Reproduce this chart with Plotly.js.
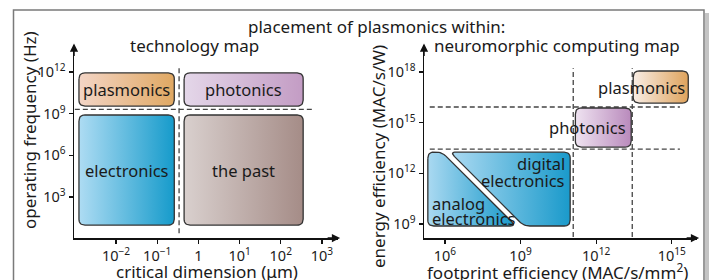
<!DOCTYPE html>
<html><head><meta charset="utf-8">
<script src="https://cdn.plot.ly/plotly-3.0.1.min.js"></script>
<style>html,body{margin:0;padding:0;background:#fff}#chart{width:710px;height:280px}</style>
</head><body><div id="chart"></div>
<script>
// ---- tick labels ----
const leftXTicks = [0.01, 0.1, 1, 10, 100, 1000];
const leftXTickText = ['10<sup>−2</sup>', '10<sup>−1</sup>', '1', '10<sup>1</sup>', '10<sup>2</sup>', '10<sup>3</sup>'];
const leftYTicks = [1e3, 1e6, 1e9, 1e12];
const leftYTickText = ['10<sup>3</sup>', '10<sup>6</sup>', '10<sup>9</sup>', '10<sup>12</sup>'];
const rightXTicks = [1e6, 1e9, 1e12, 1e15];
const rightXTickText = ['10<sup>6</sup>', '10<sup>9</sup>', '10<sup>12</sup>', '10<sup>15</sup>'];
const rightYTicks = [1e9, 1e12, 1e15, 1e18];
const rightYTickText = ['10<sup>9</sup>', '10<sup>12</sup>', '10<sup>15</sup>', '10<sup>18</sup>'];

// ---- technology map regions (critical dimension in µm, frequency in Hz) ----
const techNames = ['plasmonics', 'photonics', 'electronics', 'the past'];
const techXMin = [1.26e-3, 0.45, 1.26e-3, 0.45];
const techXMax = [0.26, 350, 0.26, 350];
const techYMin = [3.5e9, 3.5e9, 9.5, 9.5];
const techYMax = [8.5e11, 8.5e11, 8e8, 8e8];
const techColorL = ['#f3d5c6', '#e4d7e9', '#aedcf3', '#d9d0ce'];
const techColorR = ['#e0a862', '#c39cc4', '#169bcb', '#a58c87'];
// boundaries
const techDimBoundary = 0.34;      // µm
const techFreqBoundary = 2e9;      // Hz
const techDimLineY = [2.5, 3e12];
const techFreqLineX = [1e-3, 600];

// ---- neuromorphic map regions (MAC/s/mm², MAC/s/W) ----
const neuroBoxNames = ['plasmonics', 'photonics'];
const neuroBoxXMin = [2.95e13, 1.5e11];
const neuroBoxXMax = [4.5e15, 2.45e13];
const neuroBoxYMin = [1.45e16, 3.6e13];
const neuroBoxYMax = [1.15e18, 7.4e15];
const neuroBoxColorL = ['#f8ede5', '#efe3f1'];
const neuroBoxColorR = ['#dfa35c', '#b98abc'];
const analogX = [2.1e5, 7.6e5, 6.6e8, 2.1e5];
const analogY = [1.8e13, 1.8e13, 7.6e8, 7.6e8];
const digitalX = [1.6e6, 9.3e10, 9.3e10, 1.35e9];
const digitalY = [1.8e13, 1.8e13, 7.6e8, 7.6e8];
const elecColorL = '#aad9f1';
const elecColorR = '#1a9acb';
const neuroXBounds = [1.23e11, 2.7e13];
const neuroYBounds = [2.75e13, 8.5e15];
const neuroHLineX = [2.5e5, 2.1e15];
const neuroVLineY = [1.7e8, 1.7e18];

const W = 710, H = 280;
const axL = {x: {domain: [74 / W, 338 / W], range: [-3.02, 3.39]}, y: {domain: [1 - 238 / H, 1 - 45 / H], range: [0.05, 13.94]}};
const axR = {x: {domain: [424 / W, 697 / W], range: [5.17, 16.0]}, y: {domain: [1 - 238 / H, 1 - 45 / H], range: [8.17, 19.6]}};

function mapper(ax, len) {
  const d = ax.domain, r = ax.range;
  return {
    toP: v => (d[0] + (Math.log10(v) - r[0]) / (r[1] - r[0]) * (d[1] - d[0])) * len,
    fromP: p => Math.pow(10, r[0] + (p / len - d[0]) / (d[1] - d[0]) * (r[1] - r[0]))
  };
}

function roundPoly(xs, ys, ax, rad) {
  const mx = mapper(ax.x, W), my = mapper(ax.y, H);
  const px = xs.map(mx.toP), py = ys.map(my.toP);
  const n = px.length, ox = [], oy = [];
  for (let i = 0; i < n; i++) {
    const a = (i - 1 + n) % n, b = (i + 1) % n;
    const ux = px[a] - px[i], uy = py[a] - py[i], la = Math.hypot(ux, uy);
    const vx = px[b] - px[i], vy = py[b] - py[i], lb = Math.hypot(vx, vy);
    const rr = Math.min(rad, la / 2, lb / 2);
    const sx = px[i] + ux / la * rr, sy = py[i] + uy / la * rr;
    const ex = px[i] + vx / lb * rr, ey = py[i] + vy / lb * rr;
    for (let k = 0; k <= 8; k++) {
      const t = k / 8, q = 1 - t;
      ox.push(q * q * sx + 2 * q * t * px[i] + t * t * ex);
      oy.push(q * q * sy + 2 * q * t * py[i] + t * t * ey);
    }
  }
  ox.push(ox[0]); oy.push(oy[0]);
  return {x: ox.map(mx.fromP), y: oy.map(my.fromP)};
}

function region(xs, ys, ax, xa, ya, cL, cR) {
  const p = roundPoly(xs, ys, ax, 6);
  return {x: p.x, y: p.y, xaxis: xa, yaxis: ya, type: 'scatter', mode: 'lines', fill: 'toself',
    line: {color: '#333', width: 1.3}, fillgradient: {type: 'horizontal', colorscale: [[0, cL], [1, cR]]},
    hoverinfo: 'skip', showlegend: false};
}
function dashed(x, y, xa, ya) {
  return {x: x, y: y, xaxis: xa, yaxis: ya, type: 'scatter', mode: 'lines',
    line: {color: '#444', width: 1.3, dash: '5px,3px'}, hoverinfo: 'skip', showlegend: false};
}

const traces = [];
traces.push(dashed(techFreqLineX, [techFreqBoundary, techFreqBoundary], 'x', 'y'));
traces.push(dashed([techDimBoundary, techDimBoundary], techDimLineY, 'x', 'y'));
for (let i = 0; i < techNames.length; i++) {
  traces.push(region([techXMin[i], techXMax[i], techXMax[i], techXMin[i]],
    [techYMax[i], techYMax[i], techYMin[i], techYMin[i]], axL, 'x', 'y', techColorL[i], techColorR[i]));
}
neuroYBounds.forEach(v => traces.push(dashed(neuroHLineX, [v, v], 'x2', 'y2')));
neuroXBounds.forEach(v => traces.push(dashed([v, v], neuroVLineY, 'x2', 'y2')));
for (let i = 0; i < neuroBoxNames.length; i++) {
  traces.push(region([neuroBoxXMin[i], neuroBoxXMax[i], neuroBoxXMax[i], neuroBoxXMin[i]],
    [neuroBoxYMax[i], neuroBoxYMax[i], neuroBoxYMin[i], neuroBoxYMin[i]], axR, 'x2', 'y2', neuroBoxColorL[i], neuroBoxColorR[i]));
}
traces.push(region(analogX, analogY, axR, 'x2', 'y2', elecColorL, elecColorR));
traces.push(region(digitalX, digitalY, axR, 'x2', 'y2', elecColorL, elecColorR));

const FONT = 'Noto Sans, Liberation Sans, Arial, sans-serif';
const TXT = '#1a1a1a';
function axis(a, tv, tt, anchor) {
  return {type: 'log', domain: a.domain, range: a.range, anchor: anchor, showgrid: false, zeroline: false,
    showline: true, linecolor: '#111', linewidth: 1.5, ticks: 'outside', ticklen: 4, tickwidth: 1.2, tickcolor: '#111',
    tickmode: 'array', tickvals: tv, ticktext: tt, tickfont: {family: FONT, size: 14.5, color: TXT}, fixedrange: true};
}

const lg = Math.log10;
const ann = [];
const F17 = {family: FONT, size: 17, color: TXT};
const F16 = {family: FONT, size: 16.5, color: TXT};
function t(text, x, y, opts) {
  ann.push(Object.assign({text: text, x: x, y: y, xref: 'paper', yref: 'paper', showarrow: false,
    xanchor: 'center', yanchor: 'middle', font: F17}, opts || {}));
}
// titles
t('placement of plasmonics within:', 376 / W, 1 - 27 / H);
t('technology map', 194 / W, 1 - 46 / H);
t('neuromorphic computing map', 557 / W, 1 - 46 / H);
t('operating frequency (Hz)', 29 / W, 1 - 130 / H, {textangle: -90});
t('energy efficiency (MAC/s/W)', 378 / W, 1 - 156 / H, {textangle: -90});
t('critical dimension (μm)', 207 / W, 1 - 271 / H);
t('footprint efficiency (MAC/s/mm<sup>2</sup>)', 557 / W, 1 - 271 / H);
// left region labels
for (let i = 0; i < techNames.length; i++) {
  ann.push({text: techNames[i], xref: 'x', yref: 'y', x: (lg(techXMin[i]) + lg(techXMax[i])) / 2,
    y: (lg(techYMin[i]) + lg(techYMax[i])) / 2, showarrow: false, font: F16});
}
// right region labels
for (let i = 0; i < neuroBoxNames.length; i++) {
  ann.push({text: neuroBoxNames[i], xref: 'x2', yref: 'y2', x: lg(neuroBoxXMax[i]), xanchor: 'right', xshift: i === 0 ? -1 : -3,
    y: (lg(neuroBoxYMin[i]) + lg(neuroBoxYMax[i])) / 2, showarrow: false, font: F16});
}
t('digital', 567 / W, 1 - 163 / H, {xanchor: 'right', font: F16});
t('electronics', 567 / W, 1 - 180 / H, {xanchor: 'right', font: F16});
t('analog', 430 / W, 1 - 203 / H, {xanchor: 'left', font: F16});
t('electronics', 430 / W, 1 - 218 / H, {xanchor: 'left', font: F16});
// axis arrows
[axL, axR].forEach(a => {
  ann.push({x: a.x.domain[1] + 0.003, y: a.y.domain[0], xref: 'paper', yref: 'paper', ax: -14, ay: 0, text: '',
    showarrow: true, arrowhead: 2, arrowsize: 1.1, arrowwidth: 1.5, arrowcolor: '#111'});
  ann.push({x: a.x.domain[0], y: a.y.domain[1] + 0.005, xref: 'paper', yref: 'paper', ax: 0, ay: 14, text: '',
    showarrow: true, arrowhead: 2, arrowsize: 1.1, arrowwidth: 1.5, arrowcolor: '#111'});
});

const shapes = [
  {type: 'rect', xref: 'paper', yref: 'paper', x0: 705 / W, x1: 709 / W, y0: -0.1, y1: 1 - 13 / H, line: {width: 0}, fillcolor: '#c4c4c4'},
  {type: 'rect', xref: 'paper', yref: 'paper', x0: 13.5 / W, x1: 704 / W, y0: -0.1, y1: 1 - 10 / H, line: {color: '#7a7a7a', width: 1.5}, fillcolor: 'rgba(0,0,0,0)'}
];

const layout = {
  width: W, height: H, margin: {l: 0, r: 0, t: 0, b: 0}, paper_bgcolor: '#fff', plot_bgcolor: 'rgba(0,0,0,0)',
  showlegend: false, font: {family: FONT},
  xaxis: axis(axL.x, leftXTicks, leftXTickText, 'y'),
  yaxis: axis(axL.y, leftYTicks, leftYTickText, 'x'),
  xaxis2: axis(axR.x, rightXTicks, rightXTickText, 'y2'),
  yaxis2: axis(axR.y, rightYTicks, rightYTickText, 'x2'),
  annotations: ann, shapes: shapes
};
Plotly.newPlot('chart', traces, layout, {displayModeBar: false, staticPlot: true});
</script></body></html>
